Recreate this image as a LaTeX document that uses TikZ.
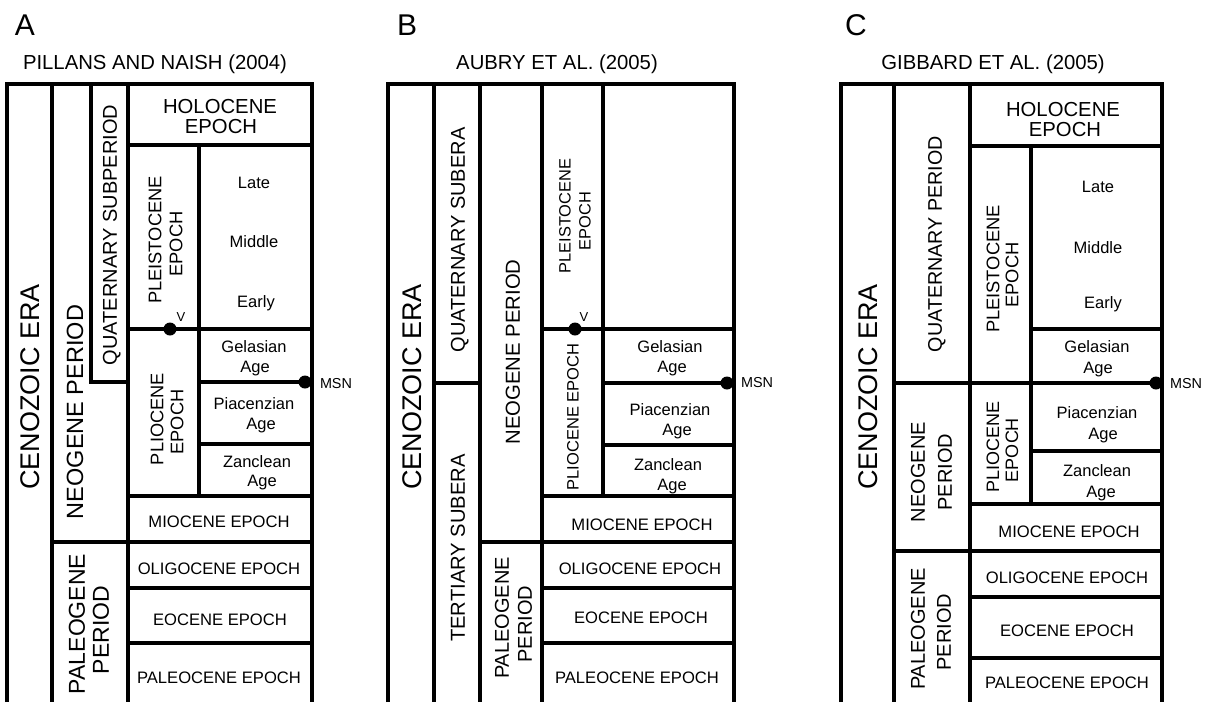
\documentclass[tikz,border=0pt]{standalone}
\usepackage{fontspec}
\setmainfont{Liberation Sans}
\newcommand\T[1]{\setbox0\hbox{#1}\ht0=\fontcharht\font`H\relax\dp0=0pt\relax\box0}
\begin{document}
\begin{tikzpicture}[x=1pt,y=-1pt,line join=miter,
  rl/.style={line width=3.2pt},
  lbl/.style={inner sep=0pt,font=\fontsize{#1}{#1}\selectfont},
  vl/.style={lbl=#1,rotate=90},
  blob/.style={circle,fill=black,inner sep=0pt,minimum size=13pt}]
\useasboundingbox (0,0) rectangle (1210,702);

% ---------------- Panel A ----------------
\draw[rl] (7,702) -- (7,84) -- (312,84) -- (312,702);
\draw[rl] (52,84) -- (52,702);
\draw[rl] (91,84) -- (91,382) -- (128,382);
\draw[rl] (128,84) -- (128,702);
\draw[rl] (128,145) -- (312,145);
\draw[rl] (199,145) -- (199,496);
\draw[rl] (128,329) -- (312,329);
\draw[rl] (199,382) -- (312,382);
\draw[rl] (199,444) -- (312,444);
\draw[rl] (128,496) -- (312,496);
\draw[rl] (52,542) -- (312,542);
\draw[rl] (128,588) -- (312,588);
\draw[rl] (128,643) -- (312,643);
\node[blob] (vdotA) at (170,329) {};
\node[blob] (msndotA) at (305,382) {};

\node[lbl=30] (letA) at (25,25) {\T{A}};
\node[lbl=20.3] (titA) at (155,63) {\T{PILLANS AND NAISH (2004)}};
\node[vl=27] (cenA) at (30,387) {\T{CENOZOIC ERA}};
\node[vl=23.5] (neoA) at (75,412) {\T{NEOGENE PERIOD}};
\node[vl=20] (quaA) at (110,235) {\T{QUATERNARY SUBPERIOD}};
\node[lbl=20.3] (holA1) at (220,107) {\T{HOLOCENE}};
\node[lbl=20.3] (holA2) at (221,127) {\T{EPOCH}};
\node[vl=18.3] (pleA1) at (155,240) {\T{PLEISTOCENE}};
\node[vl=18.3] (pleA2) at (176,244) {\T{EPOCH}};
\node[lbl=16.5] (lateA) at (254,183) {\T{Late}};
\node[lbl=16.5] (midA) at (254,242) {\T{Middle}};
\node[lbl=16.5] (earA) at (256,302) {\T{Early}};
\node[lbl=13] (vA) at (181,317) {\T{V}};
\node[vl=18.2] (pliA1) at (157,419) {\T{PLIOCENE}};
\node[vl=18.2] (pliA2) at (177,422) {\T{EPOCH}};
\node[lbl=16.5] (gelA1) at (254,347) {\T{Gelasian}};
\node[lbl=16.5] (gelA2) at (255,367) {\T{Age}};
\node[lbl=16.5] (piaA1) at (254,404) {\T{Piacenzian}};
\node[lbl=16.5] (piaA2) at (261,424) {\T{Age}};
\node[lbl=16.5] (zanA1) at (257,462) {\T{Zanclean}};
\node[lbl=16.5] (zanA2) at (262,481) {\T{Age}};
\node[lbl=14.4] (msnA) at (336,384) {\T{MSN}};
\node[lbl=16.6] (mioA) at (219,522) {\T{MIOCENE EPOCH}};
\node[lbl=16.6] (oliA) at (219,569) {\T{OLIGOCENE EPOCH}};
\node[lbl=16.6] (eocA) at (220,620) {\T{EOCENE EPOCH}};
\node[lbl=16.6] (palA) at (219,678) {\T{PALEOCENE EPOCH}};
\node[vl=23] (pgA1) at (77,624) {\T{PALEOGENE}};
\node[vl=23] (pgA2) at (101,630) {\T{PERIOD}};

% ---------------- Panel B ----------------
\draw[rl] (388,702) -- (388,84) -- (734,84) -- (734,702);
\draw[rl] (434,84) -- (434,702);
\draw[rl] (480,84) -- (480,702);
\draw[rl] (434,383) -- (480,383);
\draw[rl] (542,84) -- (542,702);
\draw[rl] (603,84) -- (603,496);
\draw[rl] (542,329) -- (734,329);
\draw[rl] (603,383) -- (734,383);
\draw[rl] (603,445) -- (734,445);
\draw[rl] (542,496) -- (734,496);
\draw[rl] (480,542) -- (734,542);
\draw[rl] (542,588) -- (734,588);
\draw[rl] (542,643) -- (734,643);
\node[blob] (vdotB) at (575,329) {};
\node[blob] (msndotB) at (727,383) {};

\node[lbl=30] (letB) at (407,25) {\T{B}};
\node[lbl=20.3] (titB) at (557,63) {\T{AUBRY ET AL. (2005)}};
\node[vl=27] (cenB) at (412,387) {\T{CENOZOIC ERA}};
\node[vl=20] (quaB) at (458,240) {\T{QUATERNARY SUBERA}};
\node[vl=20.2] (terB) at (458,548) {\T{TERTIARY SUBERA}};
\node[vl=20.3] (neoB) at (513,352) {\T{NEOGENE PERIOD}};
\node[vl=16.4] (pleB1) at (565,216) {\T{PLEISTOCENE}};
\node[vl=16.4] (pleB2) at (585,221) {\T{EPOCH}};
\node[lbl=13] (vB) at (584,317) {\T{V}};
\node[vl=16.5] (pliB) at (573,417) {\T{PLIOCENE EPOCH}};
\node[lbl=16.5] (gelB1) at (670,347) {\T{Gelasian}};
\node[lbl=16.5] (gelB2) at (672,367) {\T{Age}};
\node[lbl=16.5] (piaB1) at (670,410) {\T{Piacenzian}};
\node[lbl=16.5] (piaB2) at (677,430) {\T{Age}};
\node[lbl=16.5] (zanB1) at (668,465) {\T{Zanclean}};
\node[lbl=16.5] (zanB2) at (672,485) {\T{Age}};
\node[lbl=14.4] (msnB) at (757,383) {\T{MSN}};
\node[lbl=16.6] (mioB) at (642,525) {\T{MIOCENE EPOCH}};
\node[lbl=16.6] (oliB) at (640,569) {\T{OLIGOCENE EPOCH}};
\node[lbl=16.6] (eocB) at (641,618) {\T{EOCENE EPOCH}};
\node[lbl=16.6] (palB) at (637,678) {\T{PALEOCENE EPOCH}};
\node[vl=20] (pgB1) at (502,618) {\T{PALEOGENE}};
\node[vl=20] (pgB2) at (525,624) {\T{PERIOD}};

% ---------------- Panel C ----------------
\draw[rl] (841,702) -- (841,84) -- (1162,84) -- (1162,702);
\draw[rl] (894,84) -- (894,702);
\draw[rl] (970,84) -- (970,702);
\draw[rl] (970,146) -- (1162,146);
\draw[rl] (1031,146) -- (1031,504);
\draw[rl] (1031,329) -- (1162,329);
\draw[rl] (894,383) -- (1162,383);
\draw[rl] (1031,451) -- (1162,451);
\draw[rl] (970,504) -- (1162,504);
\draw[rl] (894,551) -- (1162,551);
\draw[rl] (970,597) -- (1162,597);
\draw[rl] (970,658) -- (1162,658);
\node[blob] (msndotC) at (1156,383) {};

\node[lbl=30] (letC) at (856,25) {\T{C}};
\node[lbl=20.3] (titC) at (993,63) {\T{GIBBARD ET AL. (2005)}};
\node[vl=27] (cenC) at (868,387) {\T{CENOZOIC ERA}};
\node[vl=19.7] (quaC) at (935,244) {\T{QUATERNARY PERIOD}};
\node[lbl=20.3] (holC1) at (1063,110) {\T{HOLOCENE}};
\node[lbl=20.3] (holC2) at (1065,130) {\T{EPOCH}};
\node[vl=18.3] (pleC1) at (993,269) {\T{PLEISTOCENE}};
\node[vl=18.3] (pleC2) at (1012,275) {\T{EPOCH}};
\node[lbl=16.5] (lateC) at (1098,187) {\T{Late}};
\node[lbl=16.5] (midC) at (1098,248) {\T{Middle}};
\node[lbl=16.5] (earC) at (1103,303) {\T{Early}};
\node[lbl=16.5] (gelC1) at (1097,347) {\T{Gelasian}};
\node[lbl=16.5] (gelC2) at (1098,368) {\T{Age}};
\node[lbl=14.4] (msnC) at (1186,384) {\T{MSN}};
\node[vl=20] (neoC1) at (918,472) {\T{NEOGENE}};
\node[vl=20] (neoC2) at (945,472) {\T{PERIOD}};
\node[vl=18] (pliC1) at (993,447) {\T{PLIOCENE}};
\node[vl=18] (pliC2) at (1012,450) {\T{EPOCH}};
\node[lbl=16.5] (piaC1) at (1097,413) {\T{Piacenzian}};
\node[lbl=16.5] (piaC2) at (1103,434) {\T{Age}};
\node[lbl=16.5] (zanC1) at (1097,471) {\T{Zanclean}};
\node[lbl=16.5] (zanC2) at (1101,492) {\T{Age}};
\node[lbl=16.6] (mioC) at (1069,532) {\T{MIOCENE EPOCH}};
\node[lbl=16.6] (oliC) at (1067,578) {\T{OLIGOCENE EPOCH}};
\node[lbl=16.6] (eocC) at (1067,631) {\T{EOCENE EPOCH}};
\node[lbl=16.6] (palC) at (1067,683) {\T{PALEOCENE EPOCH}};
\node[vl=20] (pgC1) at (918,629) {\T{PALEOGENE}};
\node[vl=20] (pgC2) at (944,632) {\T{PERIOD}};
\end{tikzpicture}
\end{document}
